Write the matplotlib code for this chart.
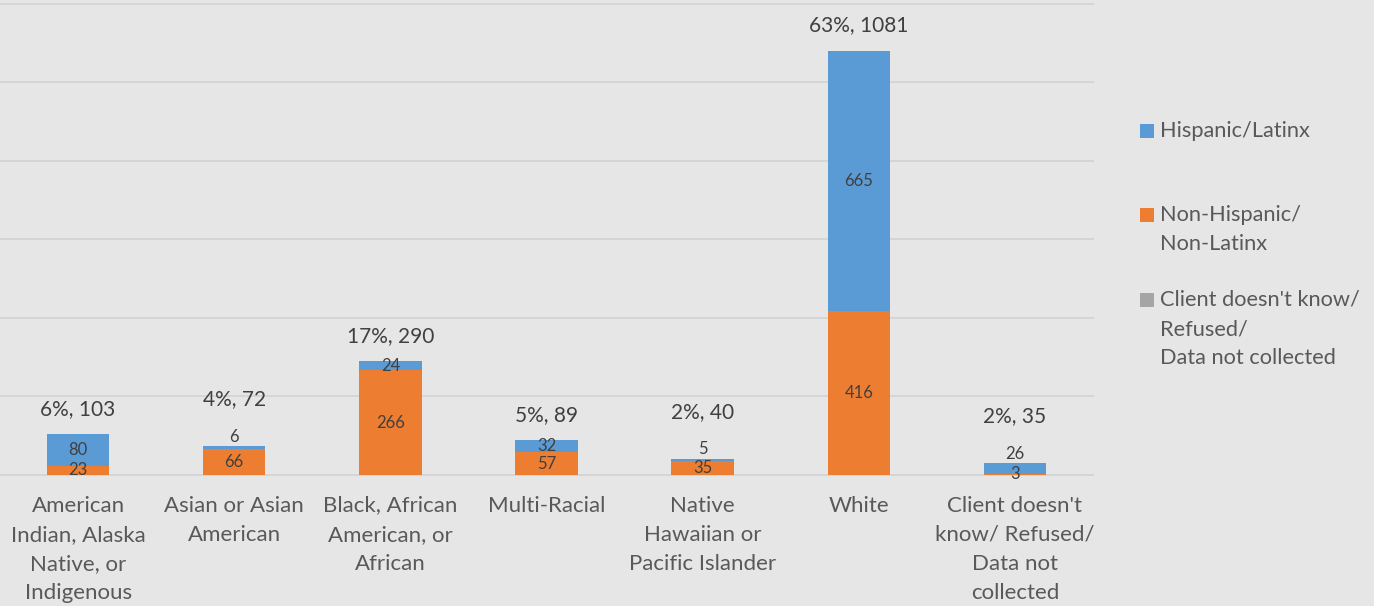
import matplotlib
matplotlib.use("Agg")
import matplotlib.pyplot as plt
from matplotlib.patches import Rectangle
import numpy as np

plt.rcParams["font.family"] = ["Lato", "DejaVu Sans"]

categories = [
    "American\nIndian, Alaska\nNative, or\nIndigenous",
    "Asian or Asian\nAmerican",
    "Black, African\nAmerican, or\nAfrican",
    "Multi-Racial",
    "Native\nHawaiian or\nPacific Islander",
    "White",
    "Client doesn't\nknow/ Refused/\nData not\ncollected",
]
non_hispanic = [23, 66, 266, 57, 35, 416, 3]
hispanic = [80, 6, 24, 32, 5, 665, 26]
unknown = [0, 0, 0, 0, 0, 0, 0]
totals = [103, 72, 290, 89, 40, 1081, 35]
shares = [6, 4, 17, 5, 2, 63, 2]

series_names = [
    "Hispanic/Latinx",
    "Non-Hispanic/\nNon-Latinx",
    "Client doesn't know/\nRefused/\nData not collected",
]

BG = "#E7E6E6"
GRID = "#D6D5D5"
BLUE = "#5B9BD5"
ORANGE = "#ED7D31"
GRAY = "#A5A5A5"
DARK = "#404040"
MID = "#595959"

W, H = 1374, 606
fig = plt.figure(figsize=(W / 100, H / 100), dpi=100, facecolor=BG)
ax = fig.add_axes([0, 131.3 / H, 1093 / W, 470.8 / H])
ax.set_facecolor(BG)

x = np.arange(len(categories))
width = 0.4
ax.bar(x, non_hispanic, width, color=ORANGE, zorder=2)
ax.bar(x, hispanic, width, bottom=non_hispanic, color=BLUE, zorder=2)
stack = [a + b for a, b in zip(non_hispanic, hispanic)]
ax.bar(x, unknown, width, bottom=stack, color=GRAY, zorder=2)

ax.set_xlim(-0.5, len(categories) - 0.5)
ax.set_ylim(0, 1200)
ax.set_yticks(range(0, 1201, 200))
ax.yaxis.grid(True, color=GRID, linewidth=1.4)
for gl in ax.get_ygridlines():
    gl.set_clip_on(False)
ax.set_axisbelow(True)
for s in ax.spines.values():
    s.set_visible(False)
ax.tick_params(axis="y", left=False, labelleft=False)
ax.set_xticks(x, categories)
ax.tick_params(axis="x", length=0, pad=15, labelsize=16, labelcolor=MID)
for lbl in ax.get_xticklabels():
    lbl.set_linespacing(1.57)

# pixels per data unit, to decide when the small labels collide
px_per_unit = (ax.transData.transform((0, 100))[1] - ax.transData.transform((0, 0))[1]) / 100

for i in x:
    nh, hs = non_hispanic[i], hispanic[i]
    top = stack[i] + unknown[i]
    y_nh = nh / 2
    y_hs = nh + hs / 2
    ax.text(i, y_nh, str(nh), ha="center", va="center", fontsize=12, color=DARK, zorder=3)
    if (y_hs - y_nh) * px_per_unit < 15:
        # no room inside: put the label just above the bar
        ax.annotate(str(hs), (i, top), xytext=(0, 7), textcoords="offset points",
                    ha="center", va="center", fontsize=12, color=DARK, zorder=3)
        total_off = 34
    else:
        ax.text(i, y_hs, str(hs), ha="center", va="center", fontsize=12, color=DARK, zorder=3)
        total_off = 18
    ax.annotate(f"{shares[i]}%, {totals[i]}", (i, top), xytext=(0, total_off),
                textcoords="offset points", ha="center", va="center",
                fontsize=15, color=DARK, zorder=3)

# legend on the right
legend_rows = [131, 215, 300]
for name, color, row in zip(series_names, [BLUE, ORANGE, GRAY], legend_rows):
    fig.add_artist(Rectangle((1140 / W, (H - row - 7) / H), 14 / W, 14 / H,
                             transform=fig.transFigure, facecolor=color, edgecolor="none"))
    for k, line in enumerate(name.split("\n")):
        fig.text(1160 / W, (H - row - 29 * k) / H, line, ha="left", va="center",
                 fontsize=15.7, color=MID)

fig.savefig("out.png", dpi=100, facecolor=BG)
